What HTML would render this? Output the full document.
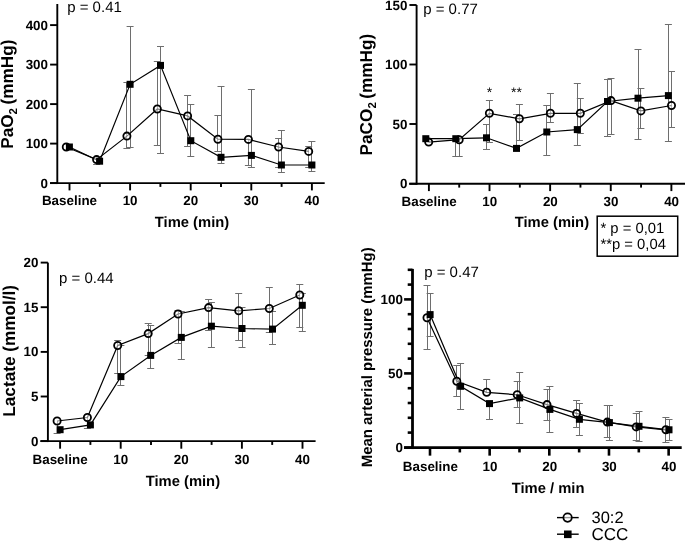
<!DOCTYPE html>
<html><head><meta charset="utf-8"><style>
html,body{margin:0;padding:0;background:#fff;width:685px;height:541px;overflow:hidden;}
svg{display:block;will-change:transform;text-rendering:geometricPrecision;}
text{fill:#000;}
</style></head><body>
<svg width="685" height="541" viewBox="0 0 685 541" font-family='"Liberation Sans", sans-serif'>
<rect width="685" height="541" fill="#fff"/>
<line x1="57.30" y1="4.00" x2="57.30" y2="184.05" stroke="#000" stroke-width="1.9" />
<line x1="50.00" y1="183.10" x2="324.70" y2="183.10" stroke="#000" stroke-width="1.9" />
<line x1="50.10" y1="25.10" x2="57.30" y2="25.10" stroke="#000" stroke-width="1.9" />
<text x="48.00" y="29.60" font-size="13.4" font-weight="bold" text-anchor="end" >400</text>
<line x1="50.10" y1="64.60" x2="57.30" y2="64.60" stroke="#000" stroke-width="1.9" />
<text x="48.00" y="69.10" font-size="13.4" font-weight="bold" text-anchor="end" >300</text>
<line x1="50.10" y1="104.10" x2="57.30" y2="104.10" stroke="#000" stroke-width="1.9" />
<text x="48.00" y="108.60" font-size="13.4" font-weight="bold" text-anchor="end" >200</text>
<line x1="50.10" y1="143.60" x2="57.30" y2="143.60" stroke="#000" stroke-width="1.9" />
<text x="48.00" y="148.10" font-size="13.4" font-weight="bold" text-anchor="end" >100</text>
<line x1="50.10" y1="183.10" x2="57.30" y2="183.10" stroke="#000" stroke-width="1.9" />
<text x="48.00" y="187.60" font-size="13.4" font-weight="bold" text-anchor="end" >0</text>
<line x1="69.50" y1="183.10" x2="69.50" y2="190.40" stroke="#000" stroke-width="1.9" />
<text x="69.50" y="205.20" font-size="13.4" font-weight="bold" text-anchor="middle" >Baseline</text>
<line x1="99.80" y1="183.10" x2="99.80" y2="186.90" stroke="#000" stroke-width="1.9" />
<line x1="130.10" y1="183.10" x2="130.10" y2="190.40" stroke="#000" stroke-width="1.9" />
<text x="130.10" y="205.20" font-size="13.4" font-weight="bold" text-anchor="middle" >10</text>
<line x1="160.40" y1="183.10" x2="160.40" y2="186.90" stroke="#000" stroke-width="1.9" />
<line x1="190.70" y1="183.10" x2="190.70" y2="190.40" stroke="#000" stroke-width="1.9" />
<text x="190.70" y="205.20" font-size="13.4" font-weight="bold" text-anchor="middle" >20</text>
<line x1="221.00" y1="183.10" x2="221.00" y2="186.90" stroke="#000" stroke-width="1.9" />
<line x1="251.30" y1="183.10" x2="251.30" y2="190.40" stroke="#000" stroke-width="1.9" />
<text x="251.30" y="205.20" font-size="13.4" font-weight="bold" text-anchor="middle" >30</text>
<line x1="281.60" y1="183.10" x2="281.60" y2="186.90" stroke="#000" stroke-width="1.9" />
<line x1="311.90" y1="183.10" x2="311.90" y2="190.40" stroke="#000" stroke-width="1.9" />
<text x="311.90" y="205.20" font-size="13.4" font-weight="bold" text-anchor="middle" >40</text>
<line x1="96.50" y1="159.60" x2="96.50" y2="164.00" stroke="#6e6e6e" stroke-width="1.0" />
<line x1="93.10" y1="164.50" x2="100.10" y2="164.50" stroke="#6e6e6e" stroke-width="1.0" />
<line x1="126.50" y1="82.50" x2="126.50" y2="148.80" stroke="#6e6e6e" stroke-width="1.0" />
<line x1="123.40" y1="82.50" x2="130.40" y2="82.50" stroke="#6e6e6e" stroke-width="1.0" />
<line x1="123.40" y1="148.50" x2="130.40" y2="148.50" stroke="#6e6e6e" stroke-width="1.0" />
<line x1="157.50" y1="61.60" x2="157.50" y2="145.40" stroke="#6e6e6e" stroke-width="1.0" />
<line x1="153.80" y1="61.50" x2="160.80" y2="61.50" stroke="#6e6e6e" stroke-width="1.0" />
<line x1="153.80" y1="145.50" x2="160.80" y2="145.50" stroke="#6e6e6e" stroke-width="1.0" />
<line x1="187.50" y1="95.30" x2="187.50" y2="146.50" stroke="#6e6e6e" stroke-width="1.0" />
<line x1="184.10" y1="95.50" x2="191.10" y2="95.50" stroke="#6e6e6e" stroke-width="1.0" />
<line x1="184.10" y1="146.50" x2="191.10" y2="146.50" stroke="#6e6e6e" stroke-width="1.0" />
<line x1="217.50" y1="115.40" x2="217.50" y2="151.50" stroke="#6e6e6e" stroke-width="1.0" />
<line x1="214.40" y1="115.50" x2="221.40" y2="115.50" stroke="#6e6e6e" stroke-width="1.0" />
<line x1="214.40" y1="151.50" x2="221.40" y2="151.50" stroke="#6e6e6e" stroke-width="1.0" />
<line x1="248.50" y1="139.40" x2="248.50" y2="165.70" stroke="#6e6e6e" stroke-width="1.0" />
<line x1="244.90" y1="165.50" x2="251.90" y2="165.50" stroke="#6e6e6e" stroke-width="1.0" />
<line x1="278.50" y1="138.20" x2="278.50" y2="167.60" stroke="#6e6e6e" stroke-width="1.0" />
<line x1="275.10" y1="138.50" x2="282.10" y2="138.50" stroke="#6e6e6e" stroke-width="1.0" />
<line x1="275.10" y1="167.50" x2="282.10" y2="167.50" stroke="#6e6e6e" stroke-width="1.0" />
<line x1="308.50" y1="146.60" x2="308.50" y2="167.60" stroke="#6e6e6e" stroke-width="1.0" />
<line x1="305.20" y1="146.50" x2="312.20" y2="146.50" stroke="#6e6e6e" stroke-width="1.0" />
<line x1="305.20" y1="167.50" x2="312.20" y2="167.50" stroke="#6e6e6e" stroke-width="1.0" />
<line x1="130.50" y1="26.40" x2="130.50" y2="147.60" stroke="#6e6e6e" stroke-width="1.0" />
<line x1="126.60" y1="26.50" x2="133.60" y2="26.50" stroke="#6e6e6e" stroke-width="1.0" />
<line x1="126.60" y1="147.50" x2="133.60" y2="147.50" stroke="#6e6e6e" stroke-width="1.0" />
<line x1="160.50" y1="46.60" x2="160.50" y2="153.20" stroke="#6e6e6e" stroke-width="1.0" />
<line x1="157.00" y1="46.50" x2="164.00" y2="46.50" stroke="#6e6e6e" stroke-width="1.0" />
<line x1="157.00" y1="153.50" x2="164.00" y2="153.50" stroke="#6e6e6e" stroke-width="1.0" />
<line x1="190.50" y1="104.10" x2="190.50" y2="156.20" stroke="#6e6e6e" stroke-width="1.0" />
<line x1="187.30" y1="104.50" x2="194.30" y2="104.50" stroke="#6e6e6e" stroke-width="1.0" />
<line x1="187.30" y1="156.50" x2="194.30" y2="156.50" stroke="#6e6e6e" stroke-width="1.0" />
<line x1="221.50" y1="86.30" x2="221.50" y2="163.20" stroke="#6e6e6e" stroke-width="1.0" />
<line x1="217.50" y1="86.50" x2="224.50" y2="86.50" stroke="#6e6e6e" stroke-width="1.0" />
<line x1="217.50" y1="163.50" x2="224.50" y2="163.50" stroke="#6e6e6e" stroke-width="1.0" />
<line x1="251.50" y1="89.60" x2="251.50" y2="167.20" stroke="#6e6e6e" stroke-width="1.0" />
<line x1="247.90" y1="89.50" x2="254.90" y2="89.50" stroke="#6e6e6e" stroke-width="1.0" />
<line x1="247.90" y1="167.50" x2="254.90" y2="167.50" stroke="#6e6e6e" stroke-width="1.0" />
<line x1="281.50" y1="130.30" x2="281.50" y2="172.50" stroke="#6e6e6e" stroke-width="1.0" />
<line x1="277.90" y1="130.50" x2="284.90" y2="130.50" stroke="#6e6e6e" stroke-width="1.0" />
<line x1="277.90" y1="172.50" x2="284.90" y2="172.50" stroke="#6e6e6e" stroke-width="1.0" />
<line x1="311.50" y1="141.10" x2="311.50" y2="171.40" stroke="#6e6e6e" stroke-width="1.0" />
<line x1="308.40" y1="141.50" x2="315.40" y2="141.50" stroke="#6e6e6e" stroke-width="1.0" />
<line x1="308.40" y1="171.50" x2="315.40" y2="171.50" stroke="#6e6e6e" stroke-width="1.0" />
<polyline points="66.30,147.00 96.60,159.60 126.90,136.10 157.30,109.00 187.60,115.90 217.90,139.20 248.40,139.40 278.60,147.00 308.70,151.40" fill="none" stroke="#000" stroke-width="1.2"/>
<polyline points="69.40,147.00 99.60,161.20 130.10,84.30 160.50,65.40 190.80,140.70 221.00,157.30 251.40,155.40 281.40,165.00 311.90,165.00" fill="none" stroke="#000" stroke-width="1.2"/>
<circle cx="66.30" cy="147.00" r="3.6" fill="#fff" fill-opacity="0.5" stroke="#000" stroke-width="1.8"/>
<circle cx="96.60" cy="159.60" r="3.6" fill="#fff" fill-opacity="0.5" stroke="#000" stroke-width="1.8"/>
<circle cx="126.90" cy="136.10" r="3.6" fill="#fff" fill-opacity="0.5" stroke="#000" stroke-width="1.8"/>
<circle cx="157.30" cy="109.00" r="3.6" fill="#fff" fill-opacity="0.5" stroke="#000" stroke-width="1.8"/>
<circle cx="187.60" cy="115.90" r="3.6" fill="#fff" fill-opacity="0.5" stroke="#000" stroke-width="1.8"/>
<circle cx="217.90" cy="139.20" r="3.6" fill="#fff" fill-opacity="0.5" stroke="#000" stroke-width="1.8"/>
<circle cx="248.40" cy="139.40" r="3.6" fill="#fff" fill-opacity="0.5" stroke="#000" stroke-width="1.8"/>
<circle cx="278.60" cy="147.00" r="3.6" fill="#fff" fill-opacity="0.5" stroke="#000" stroke-width="1.8"/>
<circle cx="308.70" cy="151.40" r="3.6" fill="#fff" fill-opacity="0.5" stroke="#000" stroke-width="1.8"/>
<rect x="65.90" y="143.50" width="7.0" height="7.0" fill="#000"/>
<rect x="96.10" y="157.70" width="7.0" height="7.0" fill="#000"/>
<rect x="126.60" y="80.80" width="7.0" height="7.0" fill="#000"/>
<rect x="157.00" y="61.90" width="7.0" height="7.0" fill="#000"/>
<rect x="187.30" y="137.20" width="7.0" height="7.0" fill="#000"/>
<rect x="217.50" y="153.80" width="7.0" height="7.0" fill="#000"/>
<rect x="247.90" y="151.90" width="7.0" height="7.0" fill="#000"/>
<rect x="277.90" y="161.50" width="7.0" height="7.0" fill="#000"/>
<rect x="308.40" y="161.50" width="7.0" height="7.0" fill="#000"/>
<text x="67.20" y="12.40" font-size="15" font-weight="normal" text-anchor="start" >p = 0.41</text>
<text x="192.00" y="226.80" font-size="14.75" font-weight="bold" text-anchor="middle" >Time (min)</text>
<text transform="translate(13.0,148.8) rotate(-90)" font-size="17.2" font-weight="bold">PaO<tspan font-size="11.5" dy="4">2</tspan><tspan dy="-4" dx="-1.3"> (mmHg)</tspan></text>
<line x1="416.60" y1="5.00" x2="416.60" y2="184.75" stroke="#000" stroke-width="1.9" />
<line x1="409.20" y1="183.80" x2="685.00" y2="183.80" stroke="#000" stroke-width="1.9" />
<line x1="409.40" y1="5.00" x2="416.60" y2="5.00" stroke="#000" stroke-width="1.9" />
<text x="407.40" y="9.50" font-size="13.4" font-weight="bold" text-anchor="end" >150</text>
<line x1="409.40" y1="64.50" x2="416.60" y2="64.50" stroke="#000" stroke-width="1.9" />
<text x="407.40" y="69.00" font-size="13.4" font-weight="bold" text-anchor="end" >100</text>
<line x1="409.40" y1="124.00" x2="416.60" y2="124.00" stroke="#000" stroke-width="1.9" />
<text x="407.40" y="128.50" font-size="13.4" font-weight="bold" text-anchor="end" >50</text>
<line x1="409.40" y1="183.80" x2="416.60" y2="183.80" stroke="#000" stroke-width="1.9" />
<text x="407.40" y="188.30" font-size="13.4" font-weight="bold" text-anchor="end" >0</text>
<line x1="428.90" y1="183.80" x2="428.90" y2="191.10" stroke="#000" stroke-width="1.9" />
<text x="429.10" y="206.30" font-size="13.4" font-weight="bold" text-anchor="middle" >Baseline</text>
<line x1="459.21" y1="183.80" x2="459.21" y2="187.60" stroke="#000" stroke-width="1.9" />
<line x1="489.52" y1="183.80" x2="489.52" y2="191.10" stroke="#000" stroke-width="1.9" />
<text x="489.72" y="206.30" font-size="13.4" font-weight="bold" text-anchor="middle" >10</text>
<line x1="519.83" y1="183.80" x2="519.83" y2="187.60" stroke="#000" stroke-width="1.9" />
<line x1="550.14" y1="183.80" x2="550.14" y2="191.10" stroke="#000" stroke-width="1.9" />
<text x="550.34" y="206.30" font-size="13.4" font-weight="bold" text-anchor="middle" >20</text>
<line x1="580.45" y1="183.80" x2="580.45" y2="187.60" stroke="#000" stroke-width="1.9" />
<line x1="610.76" y1="183.80" x2="610.76" y2="191.10" stroke="#000" stroke-width="1.9" />
<text x="610.96" y="206.30" font-size="13.4" font-weight="bold" text-anchor="middle" >30</text>
<line x1="641.07" y1="183.80" x2="641.07" y2="187.60" stroke="#000" stroke-width="1.9" />
<line x1="671.38" y1="183.80" x2="671.38" y2="191.10" stroke="#000" stroke-width="1.9" />
<text x="671.58" y="206.30" font-size="13.4" font-weight="bold" text-anchor="middle" >40</text>
<line x1="459.50" y1="139.70" x2="459.50" y2="156.70" stroke="#6e6e6e" stroke-width="1.0" />
<line x1="455.70" y1="156.50" x2="462.70" y2="156.50" stroke="#6e6e6e" stroke-width="1.0" />
<line x1="489.50" y1="100.00" x2="489.50" y2="142.10" stroke="#6e6e6e" stroke-width="1.0" />
<line x1="485.90" y1="100.50" x2="492.90" y2="100.50" stroke="#6e6e6e" stroke-width="1.0" />
<line x1="485.90" y1="142.50" x2="492.90" y2="142.50" stroke="#6e6e6e" stroke-width="1.0" />
<line x1="519.50" y1="104.50" x2="519.50" y2="140.60" stroke="#6e6e6e" stroke-width="1.0" />
<line x1="515.90" y1="104.50" x2="522.90" y2="104.50" stroke="#6e6e6e" stroke-width="1.0" />
<line x1="515.90" y1="140.50" x2="522.90" y2="140.50" stroke="#6e6e6e" stroke-width="1.0" />
<line x1="550.50" y1="93.80" x2="550.50" y2="122.80" stroke="#6e6e6e" stroke-width="1.0" />
<line x1="546.90" y1="93.50" x2="553.90" y2="93.50" stroke="#6e6e6e" stroke-width="1.0" />
<line x1="546.90" y1="122.50" x2="553.90" y2="122.50" stroke="#6e6e6e" stroke-width="1.0" />
<line x1="580.50" y1="98.20" x2="580.50" y2="133.10" stroke="#6e6e6e" stroke-width="1.0" />
<line x1="576.80" y1="98.50" x2="583.80" y2="98.50" stroke="#6e6e6e" stroke-width="1.0" />
<line x1="576.80" y1="133.50" x2="583.80" y2="133.50" stroke="#6e6e6e" stroke-width="1.0" />
<line x1="611.50" y1="78.40" x2="611.50" y2="134.60" stroke="#6e6e6e" stroke-width="1.0" />
<line x1="607.50" y1="78.50" x2="614.50" y2="78.50" stroke="#6e6e6e" stroke-width="1.0" />
<line x1="607.50" y1="134.50" x2="614.50" y2="134.50" stroke="#6e6e6e" stroke-width="1.0" />
<line x1="640.50" y1="88.80" x2="640.50" y2="128.10" stroke="#6e6e6e" stroke-width="1.0" />
<line x1="637.40" y1="88.50" x2="644.40" y2="88.50" stroke="#6e6e6e" stroke-width="1.0" />
<line x1="637.40" y1="128.50" x2="644.40" y2="128.50" stroke="#6e6e6e" stroke-width="1.0" />
<line x1="671.50" y1="71.30" x2="671.50" y2="127.80" stroke="#6e6e6e" stroke-width="1.0" />
<line x1="668.00" y1="71.50" x2="675.00" y2="71.50" stroke="#6e6e6e" stroke-width="1.0" />
<line x1="668.00" y1="127.50" x2="675.00" y2="127.50" stroke="#6e6e6e" stroke-width="1.0" />
<line x1="455.50" y1="138.70" x2="455.50" y2="156.70" stroke="#6e6e6e" stroke-width="1.0" />
<line x1="452.30" y1="156.50" x2="459.30" y2="156.50" stroke="#6e6e6e" stroke-width="1.0" />
<line x1="486.50" y1="124.50" x2="486.50" y2="149.30" stroke="#6e6e6e" stroke-width="1.0" />
<line x1="483.00" y1="124.50" x2="490.00" y2="124.50" stroke="#6e6e6e" stroke-width="1.0" />
<line x1="483.00" y1="149.50" x2="490.00" y2="149.50" stroke="#6e6e6e" stroke-width="1.0" />
<line x1="516.50" y1="114.60" x2="516.50" y2="148.40" stroke="#6e6e6e" stroke-width="1.0" />
<line x1="513.00" y1="114.50" x2="520.00" y2="114.50" stroke="#6e6e6e" stroke-width="1.0" />
<line x1="546.50" y1="105.60" x2="546.50" y2="155.90" stroke="#6e6e6e" stroke-width="1.0" />
<line x1="543.30" y1="105.50" x2="550.30" y2="105.50" stroke="#6e6e6e" stroke-width="1.0" />
<line x1="543.30" y1="155.50" x2="550.30" y2="155.50" stroke="#6e6e6e" stroke-width="1.0" />
<line x1="577.50" y1="83.70" x2="577.50" y2="145.00" stroke="#6e6e6e" stroke-width="1.0" />
<line x1="573.80" y1="83.50" x2="580.80" y2="83.50" stroke="#6e6e6e" stroke-width="1.0" />
<line x1="573.80" y1="145.50" x2="580.80" y2="145.50" stroke="#6e6e6e" stroke-width="1.0" />
<line x1="607.50" y1="79.90" x2="607.50" y2="136.00" stroke="#6e6e6e" stroke-width="1.0" />
<line x1="604.00" y1="79.50" x2="611.00" y2="79.50" stroke="#6e6e6e" stroke-width="1.0" />
<line x1="604.00" y1="136.50" x2="611.00" y2="136.50" stroke="#6e6e6e" stroke-width="1.0" />
<line x1="638.50" y1="49.40" x2="638.50" y2="139.90" stroke="#6e6e6e" stroke-width="1.0" />
<line x1="634.50" y1="49.50" x2="641.50" y2="49.50" stroke="#6e6e6e" stroke-width="1.0" />
<line x1="634.50" y1="139.50" x2="641.50" y2="139.50" stroke="#6e6e6e" stroke-width="1.0" />
<line x1="668.50" y1="24.40" x2="668.50" y2="141.10" stroke="#6e6e6e" stroke-width="1.0" />
<line x1="664.90" y1="24.50" x2="671.90" y2="24.50" stroke="#6e6e6e" stroke-width="1.0" />
<line x1="664.90" y1="141.50" x2="671.90" y2="141.50" stroke="#6e6e6e" stroke-width="1.0" />
<polyline points="428.70,142.10 459.20,139.70 489.40,113.30 519.40,118.80 550.40,113.30 580.30,113.30 611.00,100.60 640.90,110.90 671.50,105.50" fill="none" stroke="#000" stroke-width="1.2"/>
<polyline points="425.80,138.70 455.80,138.70 486.50,137.80 516.50,148.40 546.80,132.00 577.30,129.60 607.50,101.50 638.00,98.20 668.40,95.60" fill="none" stroke="#000" stroke-width="1.2"/>
<circle cx="428.70" cy="142.10" r="3.6" fill="#fff" fill-opacity="0.5" stroke="#000" stroke-width="1.8"/>
<circle cx="459.20" cy="139.70" r="3.6" fill="#fff" fill-opacity="0.5" stroke="#000" stroke-width="1.8"/>
<circle cx="489.40" cy="113.30" r="3.6" fill="#fff" fill-opacity="0.5" stroke="#000" stroke-width="1.8"/>
<circle cx="519.40" cy="118.80" r="3.6" fill="#fff" fill-opacity="0.5" stroke="#000" stroke-width="1.8"/>
<circle cx="550.40" cy="113.30" r="3.6" fill="#fff" fill-opacity="0.5" stroke="#000" stroke-width="1.8"/>
<circle cx="580.30" cy="113.30" r="3.6" fill="#fff" fill-opacity="0.5" stroke="#000" stroke-width="1.8"/>
<circle cx="611.00" cy="100.60" r="3.6" fill="#fff" fill-opacity="0.5" stroke="#000" stroke-width="1.8"/>
<circle cx="640.90" cy="110.90" r="3.6" fill="#fff" fill-opacity="0.5" stroke="#000" stroke-width="1.8"/>
<circle cx="671.50" cy="105.50" r="3.6" fill="#fff" fill-opacity="0.5" stroke="#000" stroke-width="1.8"/>
<rect x="422.30" y="135.20" width="7.0" height="7.0" fill="#000"/>
<rect x="452.30" y="135.20" width="7.0" height="7.0" fill="#000"/>
<rect x="483.00" y="134.30" width="7.0" height="7.0" fill="#000"/>
<rect x="513.00" y="144.90" width="7.0" height="7.0" fill="#000"/>
<rect x="543.30" y="128.50" width="7.0" height="7.0" fill="#000"/>
<rect x="573.80" y="126.10" width="7.0" height="7.0" fill="#000"/>
<rect x="604.00" y="98.00" width="7.0" height="7.0" fill="#000"/>
<rect x="634.50" y="94.70" width="7.0" height="7.0" fill="#000"/>
<rect x="664.90" y="92.10" width="7.0" height="7.0" fill="#000"/>
<text x="423.20" y="13.60" font-size="15" font-weight="normal" text-anchor="start" >p = 0.77</text>
<text x="551.90" y="227.30" font-size="14.75" font-weight="bold" text-anchor="middle" >Time (min)</text>
<text transform="translate(372.4,155.4) rotate(-90)" font-size="17.2" font-weight="bold">PaCO<tspan font-size="11.5" dy="4">2</tspan><tspan dy="-4" dx="-1.3"> (mmHg)</tspan></text>
<text x="489.40" y="96.50" font-size="14" font-weight="normal" text-anchor="middle" >*</text>
<text x="516.50" y="96.50" font-size="14" font-weight="normal" text-anchor="middle" >**</text>
<rect x="597.2" y="216.2" width="80.5" height="40" fill="none" stroke="#000" stroke-width="1.5"/>
<text x="600.50" y="232.70" font-size="14.8" font-weight="normal" text-anchor="start" >* p = 0,01</text>
<text x="600.50" y="248.80" font-size="14.8" font-weight="normal" text-anchor="start" >**p = 0,04</text>
<line x1="47.90" y1="262.60" x2="47.90" y2="442.05" stroke="#000" stroke-width="1.9" />
<line x1="40.30" y1="441.10" x2="315.60" y2="441.10" stroke="#000" stroke-width="1.9" />
<line x1="40.70" y1="262.60" x2="47.90" y2="262.60" stroke="#000" stroke-width="1.9" />
<text x="38.40" y="267.10" font-size="13.4" font-weight="bold" text-anchor="end" >20</text>
<line x1="40.70" y1="307.20" x2="47.90" y2="307.20" stroke="#000" stroke-width="1.9" />
<text x="38.40" y="311.70" font-size="13.4" font-weight="bold" text-anchor="end" >15</text>
<line x1="40.70" y1="351.90" x2="47.90" y2="351.90" stroke="#000" stroke-width="1.9" />
<text x="38.40" y="356.40" font-size="13.4" font-weight="bold" text-anchor="end" >10</text>
<line x1="40.70" y1="396.50" x2="47.90" y2="396.50" stroke="#000" stroke-width="1.9" />
<text x="38.40" y="401.00" font-size="13.4" font-weight="bold" text-anchor="end" >5</text>
<line x1="40.70" y1="441.10" x2="47.90" y2="441.10" stroke="#000" stroke-width="1.9" />
<text x="38.40" y="445.60" font-size="13.4" font-weight="bold" text-anchor="end" >0</text>
<line x1="60.10" y1="441.10" x2="60.10" y2="448.70" stroke="#000" stroke-width="1.9" />
<text x="60.10" y="463.70" font-size="13.4" font-weight="bold" text-anchor="middle" >Baseline</text>
<line x1="90.40" y1="441.10" x2="90.40" y2="444.90" stroke="#000" stroke-width="1.9" />
<line x1="120.70" y1="441.10" x2="120.70" y2="448.70" stroke="#000" stroke-width="1.9" />
<text x="120.70" y="463.70" font-size="13.4" font-weight="bold" text-anchor="middle" >10</text>
<line x1="151.00" y1="441.10" x2="151.00" y2="444.90" stroke="#000" stroke-width="1.9" />
<line x1="181.30" y1="441.10" x2="181.30" y2="448.70" stroke="#000" stroke-width="1.9" />
<text x="181.30" y="463.70" font-size="13.4" font-weight="bold" text-anchor="middle" >20</text>
<line x1="211.60" y1="441.10" x2="211.60" y2="444.90" stroke="#000" stroke-width="1.9" />
<line x1="241.90" y1="441.10" x2="241.90" y2="448.70" stroke="#000" stroke-width="1.9" />
<text x="241.90" y="463.70" font-size="13.4" font-weight="bold" text-anchor="middle" >30</text>
<line x1="272.20" y1="441.10" x2="272.20" y2="444.90" stroke="#000" stroke-width="1.9" />
<line x1="302.50" y1="441.10" x2="302.50" y2="448.70" stroke="#000" stroke-width="1.9" />
<text x="302.50" y="463.70" font-size="13.4" font-weight="bold" text-anchor="middle" >40</text>
<line x1="57.50" y1="421.00" x2="57.50" y2="433.30" stroke="#6e6e6e" stroke-width="1.0" />
<line x1="53.60" y1="433.50" x2="60.60" y2="433.50" stroke="#6e6e6e" stroke-width="1.0" />
<line x1="87.50" y1="417.50" x2="87.50" y2="428.40" stroke="#6e6e6e" stroke-width="1.0" />
<line x1="83.90" y1="428.50" x2="90.90" y2="428.50" stroke="#6e6e6e" stroke-width="1.0" />
<line x1="117.50" y1="340.60" x2="117.50" y2="373.90" stroke="#6e6e6e" stroke-width="1.0" />
<line x1="114.20" y1="340.50" x2="121.20" y2="340.50" stroke="#6e6e6e" stroke-width="1.0" />
<line x1="114.20" y1="373.50" x2="121.20" y2="373.50" stroke="#6e6e6e" stroke-width="1.0" />
<line x1="148.50" y1="323.00" x2="148.50" y2="355.80" stroke="#6e6e6e" stroke-width="1.0" />
<line x1="144.70" y1="323.50" x2="151.70" y2="323.50" stroke="#6e6e6e" stroke-width="1.0" />
<line x1="144.70" y1="355.50" x2="151.70" y2="355.50" stroke="#6e6e6e" stroke-width="1.0" />
<line x1="178.50" y1="310.20" x2="178.50" y2="343.90" stroke="#6e6e6e" stroke-width="1.0" />
<line x1="174.50" y1="310.50" x2="181.50" y2="310.50" stroke="#6e6e6e" stroke-width="1.0" />
<line x1="174.50" y1="343.50" x2="181.50" y2="343.50" stroke="#6e6e6e" stroke-width="1.0" />
<line x1="208.50" y1="299.50" x2="208.50" y2="330.40" stroke="#6e6e6e" stroke-width="1.0" />
<line x1="205.10" y1="299.50" x2="212.10" y2="299.50" stroke="#6e6e6e" stroke-width="1.0" />
<line x1="205.10" y1="330.50" x2="212.10" y2="330.50" stroke="#6e6e6e" stroke-width="1.0" />
<line x1="238.50" y1="293.10" x2="238.50" y2="340.00" stroke="#6e6e6e" stroke-width="1.0" />
<line x1="235.20" y1="293.50" x2="242.20" y2="293.50" stroke="#6e6e6e" stroke-width="1.0" />
<line x1="235.20" y1="340.50" x2="242.20" y2="340.50" stroke="#6e6e6e" stroke-width="1.0" />
<line x1="269.50" y1="287.00" x2="269.50" y2="332.60" stroke="#6e6e6e" stroke-width="1.0" />
<line x1="265.80" y1="287.50" x2="272.80" y2="287.50" stroke="#6e6e6e" stroke-width="1.0" />
<line x1="265.80" y1="332.50" x2="272.80" y2="332.50" stroke="#6e6e6e" stroke-width="1.0" />
<line x1="299.50" y1="284.50" x2="299.50" y2="327.80" stroke="#6e6e6e" stroke-width="1.0" />
<line x1="296.30" y1="284.50" x2="303.30" y2="284.50" stroke="#6e6e6e" stroke-width="1.0" />
<line x1="296.30" y1="327.50" x2="303.30" y2="327.50" stroke="#6e6e6e" stroke-width="1.0" />
<line x1="120.50" y1="345.00" x2="120.50" y2="385.90" stroke="#6e6e6e" stroke-width="1.0" />
<line x1="117.40" y1="345.50" x2="124.40" y2="345.50" stroke="#6e6e6e" stroke-width="1.0" />
<line x1="117.40" y1="385.50" x2="124.40" y2="385.50" stroke="#6e6e6e" stroke-width="1.0" />
<line x1="150.50" y1="325.20" x2="150.50" y2="368.20" stroke="#6e6e6e" stroke-width="1.0" />
<line x1="147.20" y1="325.50" x2="154.20" y2="325.50" stroke="#6e6e6e" stroke-width="1.0" />
<line x1="147.20" y1="368.50" x2="154.20" y2="368.50" stroke="#6e6e6e" stroke-width="1.0" />
<line x1="181.50" y1="311.80" x2="181.50" y2="359.90" stroke="#6e6e6e" stroke-width="1.0" />
<line x1="177.80" y1="311.50" x2="184.80" y2="311.50" stroke="#6e6e6e" stroke-width="1.0" />
<line x1="177.80" y1="359.50" x2="184.80" y2="359.50" stroke="#6e6e6e" stroke-width="1.0" />
<line x1="211.50" y1="302.00" x2="211.50" y2="347.70" stroke="#6e6e6e" stroke-width="1.0" />
<line x1="207.90" y1="302.50" x2="214.90" y2="302.50" stroke="#6e6e6e" stroke-width="1.0" />
<line x1="207.90" y1="347.50" x2="214.90" y2="347.50" stroke="#6e6e6e" stroke-width="1.0" />
<line x1="242.50" y1="307.00" x2="242.50" y2="347.10" stroke="#6e6e6e" stroke-width="1.0" />
<line x1="238.50" y1="307.50" x2="245.50" y2="307.50" stroke="#6e6e6e" stroke-width="1.0" />
<line x1="238.50" y1="347.50" x2="245.50" y2="347.50" stroke="#6e6e6e" stroke-width="1.0" />
<line x1="272.50" y1="311.80" x2="272.50" y2="344.50" stroke="#6e6e6e" stroke-width="1.0" />
<line x1="269.00" y1="311.50" x2="276.00" y2="311.50" stroke="#6e6e6e" stroke-width="1.0" />
<line x1="269.00" y1="344.50" x2="276.00" y2="344.50" stroke="#6e6e6e" stroke-width="1.0" />
<line x1="302.50" y1="293.10" x2="302.50" y2="331.00" stroke="#6e6e6e" stroke-width="1.0" />
<line x1="298.80" y1="293.50" x2="305.80" y2="293.50" stroke="#6e6e6e" stroke-width="1.0" />
<line x1="298.80" y1="331.50" x2="305.80" y2="331.50" stroke="#6e6e6e" stroke-width="1.0" />
<polyline points="57.10,421.00 87.40,417.50 117.70,345.50 148.20,333.60 178.00,314.00 208.60,307.60 238.70,310.80 269.30,308.50 299.80,295.00" fill="none" stroke="#000" stroke-width="1.2"/>
<polyline points="60.10,429.70 90.40,424.90 120.90,376.60 150.70,355.40 181.30,337.40 211.40,326.20 242.00,328.50 272.50,329.10 302.30,305.30" fill="none" stroke="#000" stroke-width="1.2"/>
<circle cx="57.10" cy="421.00" r="3.6" fill="#fff" fill-opacity="0.5" stroke="#000" stroke-width="1.8"/>
<circle cx="87.40" cy="417.50" r="3.6" fill="#fff" fill-opacity="0.5" stroke="#000" stroke-width="1.8"/>
<circle cx="117.70" cy="345.50" r="3.6" fill="#fff" fill-opacity="0.5" stroke="#000" stroke-width="1.8"/>
<circle cx="148.20" cy="333.60" r="3.6" fill="#fff" fill-opacity="0.5" stroke="#000" stroke-width="1.8"/>
<circle cx="178.00" cy="314.00" r="3.6" fill="#fff" fill-opacity="0.5" stroke="#000" stroke-width="1.8"/>
<circle cx="208.60" cy="307.60" r="3.6" fill="#fff" fill-opacity="0.5" stroke="#000" stroke-width="1.8"/>
<circle cx="238.70" cy="310.80" r="3.6" fill="#fff" fill-opacity="0.5" stroke="#000" stroke-width="1.8"/>
<circle cx="269.30" cy="308.50" r="3.6" fill="#fff" fill-opacity="0.5" stroke="#000" stroke-width="1.8"/>
<circle cx="299.80" cy="295.00" r="3.6" fill="#fff" fill-opacity="0.5" stroke="#000" stroke-width="1.8"/>
<rect x="56.60" y="426.20" width="7.0" height="7.0" fill="#000"/>
<rect x="86.90" y="421.40" width="7.0" height="7.0" fill="#000"/>
<rect x="117.40" y="373.10" width="7.0" height="7.0" fill="#000"/>
<rect x="147.20" y="351.90" width="7.0" height="7.0" fill="#000"/>
<rect x="177.80" y="333.90" width="7.0" height="7.0" fill="#000"/>
<rect x="207.90" y="322.70" width="7.0" height="7.0" fill="#000"/>
<rect x="238.50" y="325.00" width="7.0" height="7.0" fill="#000"/>
<rect x="269.00" y="325.60" width="7.0" height="7.0" fill="#000"/>
<rect x="298.80" y="301.80" width="7.0" height="7.0" fill="#000"/>
<text x="59.00" y="282.80" font-size="15" font-weight="normal" text-anchor="start" >p = 0.44</text>
<text x="182.90" y="485.50" font-size="14.75" font-weight="bold" text-anchor="middle" >Time (min)</text>
<text transform="translate(14.6,416.7) rotate(-90)" font-size="17.2" font-weight="bold">Lactate (mmol/l)</text>
<line x1="412.50" y1="268.90" x2="412.50" y2="449.05" stroke="#000" stroke-width="2.8" />
<line x1="404.10" y1="447.65" x2="681.70" y2="447.65" stroke="#000" stroke-width="2.8" />
<line x1="404.10" y1="447.65" x2="412.50" y2="447.65" stroke="#000" stroke-width="2.6" />
<text x="402.90" y="452.15" font-size="13.4" font-weight="bold" text-anchor="end" >0</text>
<line x1="404.10" y1="373.40" x2="412.50" y2="373.40" stroke="#000" stroke-width="2.6" />
<text x="402.90" y="377.90" font-size="13.4" font-weight="bold" text-anchor="end" >50</text>
<line x1="404.10" y1="299.40" x2="412.50" y2="299.40" stroke="#000" stroke-width="2.6" />
<text x="402.90" y="303.90" font-size="13.4" font-weight="bold" text-anchor="end" >100</text>
<line x1="407.70" y1="432.60" x2="412.50" y2="432.60" stroke="#000" stroke-width="2.6" />
<line x1="407.70" y1="417.80" x2="412.50" y2="417.80" stroke="#000" stroke-width="2.6" />
<line x1="407.70" y1="403.00" x2="412.50" y2="403.00" stroke="#000" stroke-width="2.6" />
<line x1="407.70" y1="388.20" x2="412.50" y2="388.20" stroke="#000" stroke-width="2.6" />
<line x1="407.70" y1="358.60" x2="412.50" y2="358.60" stroke="#000" stroke-width="2.6" />
<line x1="407.70" y1="343.80" x2="412.50" y2="343.80" stroke="#000" stroke-width="2.6" />
<line x1="407.70" y1="329.00" x2="412.50" y2="329.00" stroke="#000" stroke-width="2.6" />
<line x1="407.70" y1="314.20" x2="412.50" y2="314.20" stroke="#000" stroke-width="2.6" />
<line x1="407.70" y1="284.60" x2="412.50" y2="284.60" stroke="#000" stroke-width="2.6" />
<line x1="407.70" y1="269.80" x2="412.50" y2="269.80" stroke="#000" stroke-width="2.6" />
<line x1="430.00" y1="447.65" x2="430.00" y2="455.65" stroke="#000" stroke-width="2.6" />
<text x="430.40" y="470.90" font-size="13.4" font-weight="bold" text-anchor="middle" >Baseline</text>
<line x1="459.83" y1="447.65" x2="459.83" y2="452.45" stroke="#000" stroke-width="2.6" />
<line x1="489.66" y1="447.65" x2="489.66" y2="455.65" stroke="#000" stroke-width="2.6" />
<text x="490.06" y="470.90" font-size="13.4" font-weight="bold" text-anchor="middle" >10</text>
<line x1="519.49" y1="447.65" x2="519.49" y2="452.45" stroke="#000" stroke-width="2.6" />
<line x1="549.32" y1="447.65" x2="549.32" y2="455.65" stroke="#000" stroke-width="2.6" />
<text x="549.72" y="470.90" font-size="13.4" font-weight="bold" text-anchor="middle" >20</text>
<line x1="579.15" y1="447.65" x2="579.15" y2="452.45" stroke="#000" stroke-width="2.6" />
<line x1="608.98" y1="447.65" x2="608.98" y2="455.65" stroke="#000" stroke-width="2.6" />
<text x="609.38" y="470.90" font-size="13.4" font-weight="bold" text-anchor="middle" >30</text>
<line x1="638.81" y1="447.65" x2="638.81" y2="452.45" stroke="#000" stroke-width="2.6" />
<line x1="668.64" y1="447.65" x2="668.64" y2="455.65" stroke="#000" stroke-width="2.6" />
<text x="669.04" y="470.90" font-size="13.4" font-weight="bold" text-anchor="middle" >40</text>
<line x1="427.50" y1="285.70" x2="427.50" y2="349.20" stroke="#6e6e6e" stroke-width="1.0" />
<line x1="423.50" y1="285.50" x2="430.50" y2="285.50" stroke="#6e6e6e" stroke-width="1.0" />
<line x1="423.50" y1="349.50" x2="430.50" y2="349.50" stroke="#6e6e6e" stroke-width="1.0" />
<line x1="456.50" y1="365.50" x2="456.50" y2="396.40" stroke="#6e6e6e" stroke-width="1.0" />
<line x1="453.30" y1="365.50" x2="460.30" y2="365.50" stroke="#6e6e6e" stroke-width="1.0" />
<line x1="453.30" y1="396.50" x2="460.30" y2="396.50" stroke="#6e6e6e" stroke-width="1.0" />
<line x1="486.50" y1="379.70" x2="486.50" y2="392.30" stroke="#6e6e6e" stroke-width="1.0" />
<line x1="483.20" y1="379.50" x2="490.20" y2="379.50" stroke="#6e6e6e" stroke-width="1.0" />
<line x1="517.50" y1="381.30" x2="517.50" y2="407.40" stroke="#6e6e6e" stroke-width="1.0" />
<line x1="513.70" y1="381.50" x2="520.70" y2="381.50" stroke="#6e6e6e" stroke-width="1.0" />
<line x1="513.70" y1="407.50" x2="520.70" y2="407.50" stroke="#6e6e6e" stroke-width="1.0" />
<line x1="547.50" y1="389.30" x2="547.50" y2="420.40" stroke="#6e6e6e" stroke-width="1.0" />
<line x1="543.50" y1="389.50" x2="550.50" y2="389.50" stroke="#6e6e6e" stroke-width="1.0" />
<line x1="543.50" y1="420.50" x2="550.50" y2="420.50" stroke="#6e6e6e" stroke-width="1.0" />
<line x1="576.50" y1="400.70" x2="576.50" y2="427.40" stroke="#6e6e6e" stroke-width="1.0" />
<line x1="573.10" y1="400.50" x2="580.10" y2="400.50" stroke="#6e6e6e" stroke-width="1.0" />
<line x1="573.10" y1="427.50" x2="580.10" y2="427.50" stroke="#6e6e6e" stroke-width="1.0" />
<line x1="607.50" y1="405.00" x2="607.50" y2="437.40" stroke="#6e6e6e" stroke-width="1.0" />
<line x1="603.80" y1="405.50" x2="610.80" y2="405.50" stroke="#6e6e6e" stroke-width="1.0" />
<line x1="603.80" y1="437.50" x2="610.80" y2="437.50" stroke="#6e6e6e" stroke-width="1.0" />
<line x1="636.50" y1="413.40" x2="636.50" y2="440.50" stroke="#6e6e6e" stroke-width="1.0" />
<line x1="632.70" y1="413.50" x2="639.70" y2="413.50" stroke="#6e6e6e" stroke-width="1.0" />
<line x1="632.70" y1="440.50" x2="639.70" y2="440.50" stroke="#6e6e6e" stroke-width="1.0" />
<line x1="665.50" y1="417.10" x2="665.50" y2="442.30" stroke="#6e6e6e" stroke-width="1.0" />
<line x1="662.40" y1="417.50" x2="669.40" y2="417.50" stroke="#6e6e6e" stroke-width="1.0" />
<line x1="662.40" y1="442.50" x2="669.40" y2="442.50" stroke="#6e6e6e" stroke-width="1.0" />
<line x1="430.50" y1="293.50" x2="430.50" y2="336.00" stroke="#6e6e6e" stroke-width="1.0" />
<line x1="426.60" y1="293.50" x2="433.60" y2="293.50" stroke="#6e6e6e" stroke-width="1.0" />
<line x1="426.60" y1="336.50" x2="433.60" y2="336.50" stroke="#6e6e6e" stroke-width="1.0" />
<line x1="460.50" y1="363.60" x2="460.50" y2="409.90" stroke="#6e6e6e" stroke-width="1.0" />
<line x1="457.10" y1="363.50" x2="464.10" y2="363.50" stroke="#6e6e6e" stroke-width="1.0" />
<line x1="457.10" y1="409.50" x2="464.10" y2="409.50" stroke="#6e6e6e" stroke-width="1.0" />
<line x1="489.50" y1="403.60" x2="489.50" y2="419.90" stroke="#6e6e6e" stroke-width="1.0" />
<line x1="486.00" y1="419.50" x2="493.00" y2="419.50" stroke="#6e6e6e" stroke-width="1.0" />
<line x1="519.50" y1="372.80" x2="519.50" y2="423.70" stroke="#6e6e6e" stroke-width="1.0" />
<line x1="516.20" y1="372.50" x2="523.20" y2="372.50" stroke="#6e6e6e" stroke-width="1.0" />
<line x1="516.20" y1="423.50" x2="523.20" y2="423.50" stroke="#6e6e6e" stroke-width="1.0" />
<line x1="549.50" y1="386.00" x2="549.50" y2="432.40" stroke="#6e6e6e" stroke-width="1.0" />
<line x1="546.40" y1="386.50" x2="553.40" y2="386.50" stroke="#6e6e6e" stroke-width="1.0" />
<line x1="546.40" y1="432.50" x2="553.40" y2="432.50" stroke="#6e6e6e" stroke-width="1.0" />
<line x1="579.50" y1="403.30" x2="579.50" y2="435.00" stroke="#6e6e6e" stroke-width="1.0" />
<line x1="575.90" y1="403.50" x2="582.90" y2="403.50" stroke="#6e6e6e" stroke-width="1.0" />
<line x1="575.90" y1="435.50" x2="582.90" y2="435.50" stroke="#6e6e6e" stroke-width="1.0" />
<line x1="609.50" y1="405.70" x2="609.50" y2="440.50" stroke="#6e6e6e" stroke-width="1.0" />
<line x1="605.90" y1="405.50" x2="612.90" y2="405.50" stroke="#6e6e6e" stroke-width="1.0" />
<line x1="605.90" y1="440.50" x2="612.90" y2="440.50" stroke="#6e6e6e" stroke-width="1.0" />
<line x1="639.50" y1="411.20" x2="639.50" y2="441.20" stroke="#6e6e6e" stroke-width="1.0" />
<line x1="635.50" y1="411.50" x2="642.50" y2="411.50" stroke="#6e6e6e" stroke-width="1.0" />
<line x1="635.50" y1="441.50" x2="642.50" y2="441.50" stroke="#6e6e6e" stroke-width="1.0" />
<line x1="669.50" y1="419.30" x2="669.50" y2="440.50" stroke="#6e6e6e" stroke-width="1.0" />
<line x1="665.50" y1="419.50" x2="672.50" y2="419.50" stroke="#6e6e6e" stroke-width="1.0" />
<line x1="665.50" y1="440.50" x2="672.50" y2="440.50" stroke="#6e6e6e" stroke-width="1.0" />
<polyline points="427.00,317.70 456.80,381.30 486.70,392.30 517.20,394.80 547.00,404.60 576.60,413.40 607.30,422.10 636.20,426.90 665.90,429.80" fill="none" stroke="#000" stroke-width="1.2"/>
<polyline points="430.10,314.60 460.60,386.30 489.50,403.60 519.70,397.90 549.90,409.40 579.40,419.30 609.40,422.60 639.00,426.30 669.00,429.80" fill="none" stroke="#000" stroke-width="1.2"/>
<circle cx="427.00" cy="317.70" r="3.6" fill="#fff" fill-opacity="0.5" stroke="#000" stroke-width="1.8"/>
<circle cx="456.80" cy="381.30" r="3.6" fill="#fff" fill-opacity="0.5" stroke="#000" stroke-width="1.8"/>
<circle cx="486.70" cy="392.30" r="3.6" fill="#fff" fill-opacity="0.5" stroke="#000" stroke-width="1.8"/>
<circle cx="517.20" cy="394.80" r="3.6" fill="#fff" fill-opacity="0.5" stroke="#000" stroke-width="1.8"/>
<circle cx="547.00" cy="404.60" r="3.6" fill="#fff" fill-opacity="0.5" stroke="#000" stroke-width="1.8"/>
<circle cx="576.60" cy="413.40" r="3.6" fill="#fff" fill-opacity="0.5" stroke="#000" stroke-width="1.8"/>
<circle cx="607.30" cy="422.10" r="3.6" fill="#fff" fill-opacity="0.5" stroke="#000" stroke-width="1.8"/>
<circle cx="636.20" cy="426.90" r="3.6" fill="#fff" fill-opacity="0.5" stroke="#000" stroke-width="1.8"/>
<circle cx="665.90" cy="429.80" r="3.6" fill="#fff" fill-opacity="0.5" stroke="#000" stroke-width="1.8"/>
<rect x="426.60" y="311.10" width="7.0" height="7.0" fill="#000"/>
<rect x="457.10" y="382.80" width="7.0" height="7.0" fill="#000"/>
<rect x="486.00" y="400.10" width="7.0" height="7.0" fill="#000"/>
<rect x="516.20" y="394.40" width="7.0" height="7.0" fill="#000"/>
<rect x="546.40" y="405.90" width="7.0" height="7.0" fill="#000"/>
<rect x="575.90" y="415.80" width="7.0" height="7.0" fill="#000"/>
<rect x="605.90" y="419.10" width="7.0" height="7.0" fill="#000"/>
<rect x="635.50" y="422.80" width="7.0" height="7.0" fill="#000"/>
<rect x="665.50" y="426.30" width="7.0" height="7.0" fill="#000"/>
<text x="424.20" y="277.00" font-size="15" font-weight="normal" text-anchor="start" >p = 0.47</text>
<text x="548.10" y="492.80" font-size="14.75" font-weight="bold" text-anchor="middle" >Time / min</text>
<text transform="translate(372.2,467.3) rotate(-90)" font-size="14.95" font-weight="bold">Mean arterial pressure (mmHg)</text>
<line x1="557.00" y1="517.60" x2="578.70" y2="517.60" stroke="#000" stroke-width="1.4" />
<circle cx="567.6" cy="517.6" r="4.2" fill="#fff" fill-opacity="0.6" stroke="#000" stroke-width="1.8"/>
<line x1="557.00" y1="534.20" x2="578.70" y2="534.20" stroke="#000" stroke-width="1.4" />
<rect x="564" y="530.5" width="7.6" height="7.6" fill="#000"/>
<text x="591.50" y="522.70" font-size="16.5" font-weight="normal" text-anchor="start" >30:2</text>
<text x="591.40" y="539.50" font-size="17.1" font-weight="normal" text-anchor="start" >CCC</text>
</svg>
</body></html>
